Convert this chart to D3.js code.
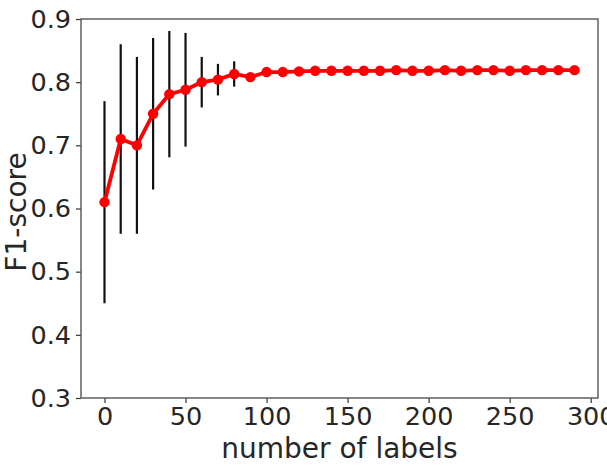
<!DOCTYPE html>
<html><head><meta charset="utf-8">
<script src="https://cdn.jsdelivr.net/npm/d3@7"></script>
<style>body{margin:0;background:#fff;overflow:hidden}svg{display:block}text{font-family:"DejaVu Sans",sans-serif;fill:#262626}</style>
</head><body>
<script>
const labels = [0,10,20,30,40,50,60,70,80,90,100,110,120,130,140,150,160,170,180,190,200,210,220,230,240,250,260,270,280,290];
const f1 = [0.610,0.710,0.700,0.750,0.781,0.788,0.800,0.804,0.813,0.808,0.816,0.816,0.817,0.818,0.818,0.818,0.818,0.818,0.819,0.818,0.818,0.819,0.818,0.819,0.819,0.818,0.819,0.819,0.819,0.819];
const err = [0.160,0.150,0.140,0.120,0.100,0.090,0.040,0.025,0.020,0.006,0.005,0.005,0.005,0.005,0.005,0.005,0.005,0.005,0.005,0.005,0.005,0.005,0.005,0.005,0.005,0.005,0.005,0.005,0.005,0.005];
const xTicks = [0,50,100,150,200,250,300];
const yTicks = [0.3,0.4,0.5,0.6,0.7,0.8,0.9];

const W=607,H=467, L=81,R=598,T=19,B=398;
const svg=d3.select("body").append("svg").attr("width",W).attr("height",H);
const x=d3.scaleLinear().domain([-14.5,304.5]).range([L,R]);
const y=d3.scaleLinear().domain([0.3,0.9]).range([B,T]);

const fs=25.5, lfs=28;
const xa=svg.append("g").attr("transform",`translate(0,${B})`)
  .call(d3.axisBottom(x).tickValues(xTicks).tickFormat(d3.format("d")).tickSize(5).tickPadding(4));
const ya=svg.append("g").attr("transform",`translate(${L},0)`)
  .call(d3.axisLeft(y).tickValues(yTicks).tickFormat(d3.format(".1f")).tickSize(5).tickPadding(5));
[xa,ya].forEach(a=>{a.select(".domain").remove();a.selectAll("line").attr("stroke","#333").attr("stroke-width",1.2);
  a.selectAll("text").attr("font-size",fs).attr("font-family","DejaVu Sans").attr("fill","#262626");});

svg.append("rect").attr("x",L).attr("y",T).attr("width",R-L).attr("height",B-T)
  .attr("fill","none").attr("stroke","#555").attr("stroke-width",1.4);

const g=svg.append("g");
g.selectAll("line.err").data(labels).join("line").attr("class","err")
  .attr("x1",d=>x(d)).attr("x2",d=>x(d))
  .attr("y1",(d,i)=>y(f1[i]-err[i])).attr("y2",(d,i)=>y(f1[i]+err[i]))
  .attr("stroke","#111").attr("stroke-width",2.2);
const line=d3.line().x(d=>x(d)).y((d,i)=>y(f1[i]));
g.append("path").datum(labels).attr("d",line).attr("fill","none").attr("stroke","#ff0000").attr("stroke-width",3.8);
g.selectAll("circle").data(labels).join("circle").attr("cx",d=>x(d)).attr("cy",(d,i)=>y(f1[i])).attr("r",5.2).attr("fill","#ff0000");

svg.append("text").attr("x",(L+R)/2).attr("y",458).attr("text-anchor","middle").attr("font-size",lfs).text("number of labels");
svg.append("text").attr("transform",`translate(26,${212}) rotate(-90)`).attr("text-anchor","middle").attr("font-size",lfs).text("F1-score");
</script>
</body></html>
